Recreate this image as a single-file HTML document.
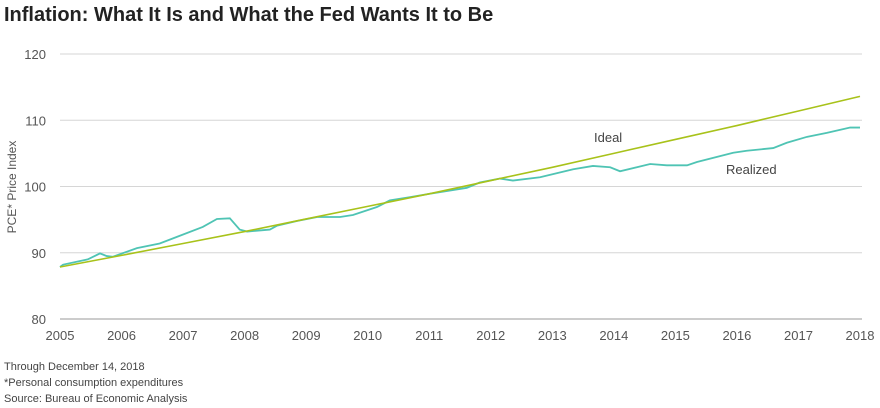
<!DOCTYPE html>
<html><head><meta charset="utf-8"><style>
body{margin:0;background:#fff;width:880px;height:408px;overflow:hidden;font-family:"Liberation Sans",sans-serif;}
#title{position:absolute;left:4px;top:4px;font-size:20px;font-weight:bold;color:#222;}
.note{position:absolute;left:4px;font-size:11px;color:#444;}
</style></head><body>
<div id="title">Inflation: What It Is and What the Fed Wants It to Be</div>
<svg id="chart" width="880" height="408" style="position:absolute;left:0;top:0"></svg>
<div class="note" style="top:361px">Through December 14, 2018</div>
<div class="note" style="top:377px">*Personal consumption expenditures</div>
<div class="note" style="top:393px">Source: Bureau of Economic Analysis</div>
<script>
const yearTicks=[2005,2006,2007,2008,2009,2010,2011,2012,2013,2014,2015,2016,2017,2018];
const valueTicks=[80,90,100,110,120];
const idealYears=[2005,2006,2007,2008,2009,2010,2011,2012,2013,2014,2015,2016,2017,2018];
const idealValues=[87.85,89.6,91.4,93.2,95.1,97.0,98.9,100.9,102.9,105.0,107.1,109.2,111.4,113.6];
const realizedYears=[2005.0,2005.05,2005.45,2005.65,2005.76,2005.86,2006.25,2006.62,2006.9,2007.32,2007.55,2007.76,2007.92,2008.04,2008.41,2008.53,2008.85,2009.18,2009.55,2009.76,2010.15,2010.36,2010.69,2011.01,2011.61,2011.82,2012.15,2012.36,2012.8,2013.34,2013.66,2013.94,2014.1,2014.59,2014.86,2015.19,2015.35,2015.94,2016.16,2016.59,2016.81,2017.14,2017.46,2017.84,2018.0];
const realizedValues=[87.85,88.2,89.0,89.9,89.5,89.4,90.7,91.4,92.4,93.9,95.1,95.2,93.5,93.2,93.5,94.1,94.8,95.4,95.4,95.7,96.9,97.9,98.4,98.9,99.8,100.6,101.2,100.9,101.4,102.6,103.1,102.9,102.3,103.4,103.2,103.2,103.7,105.1,105.4,105.8,106.6,107.5,108.1,108.9,108.9];
const svg=document.getElementById('chart');const NS='http://www.w3.org/2000/svg';
const x=y=>60+(y-2005)*(800/13);
const yv=v=>319-(v-80)*6.625;
function mk(t,a){const e=document.createElementNS(NS,t);for(const k in a)e.setAttribute(k,a[k]);svg.appendChild(e);return e;}
valueTicks.forEach(v=>{
 const l=mk('line',{x1:60,x2:862,y1:yv(v),y2:yv(v),stroke:v==80?'#999':'#d6d6d6','stroke-width':1});
 
 
 const t=mk('text',{x:46,y:yv(v)+5,'text-anchor':'end','font-size':13,fill:'#555','font-family':'Liberation Sans'});
 t.textContent=v;
 
 
});
yearTicks.forEach(yr=>{
 const t=mk('text',{x:x(yr),y:340,'text-anchor':'middle','font-size':13,fill:'#555','font-family':'Liberation Sans'});
 t.textContent=yr;
 
 
});
const yl=mk('text',{transform:'translate(16,187) rotate(-90)','text-anchor':'middle','font-size':12,fill:'#555','font-family':'Liberation Sans'});
yl.textContent='PCE* Price Index';


const rl=mk('polyline',{points:realizedYears.map((a,i)=>x(a)+','+yv(realizedValues[i])).join(' '),fill:'none',stroke:'#4fc4b4','stroke-width':1.8});


const il=mk('polyline',{points:idealYears.map((a,i)=>x(a)+','+yv(idealValues[i])).join(' '),fill:'none',stroke:'#a8c21a','stroke-width':1.6});


const t1=mk('text',{x:594,y:142,'font-size':13,fill:'#444','font-family':'Liberation Sans'});t1.textContent='Ideal';


const t2=mk('text',{x:726,y:174,'font-size':13,fill:'#444','font-family':'Liberation Sans'});t2.textContent='Realized';


</script>
</body></html>
